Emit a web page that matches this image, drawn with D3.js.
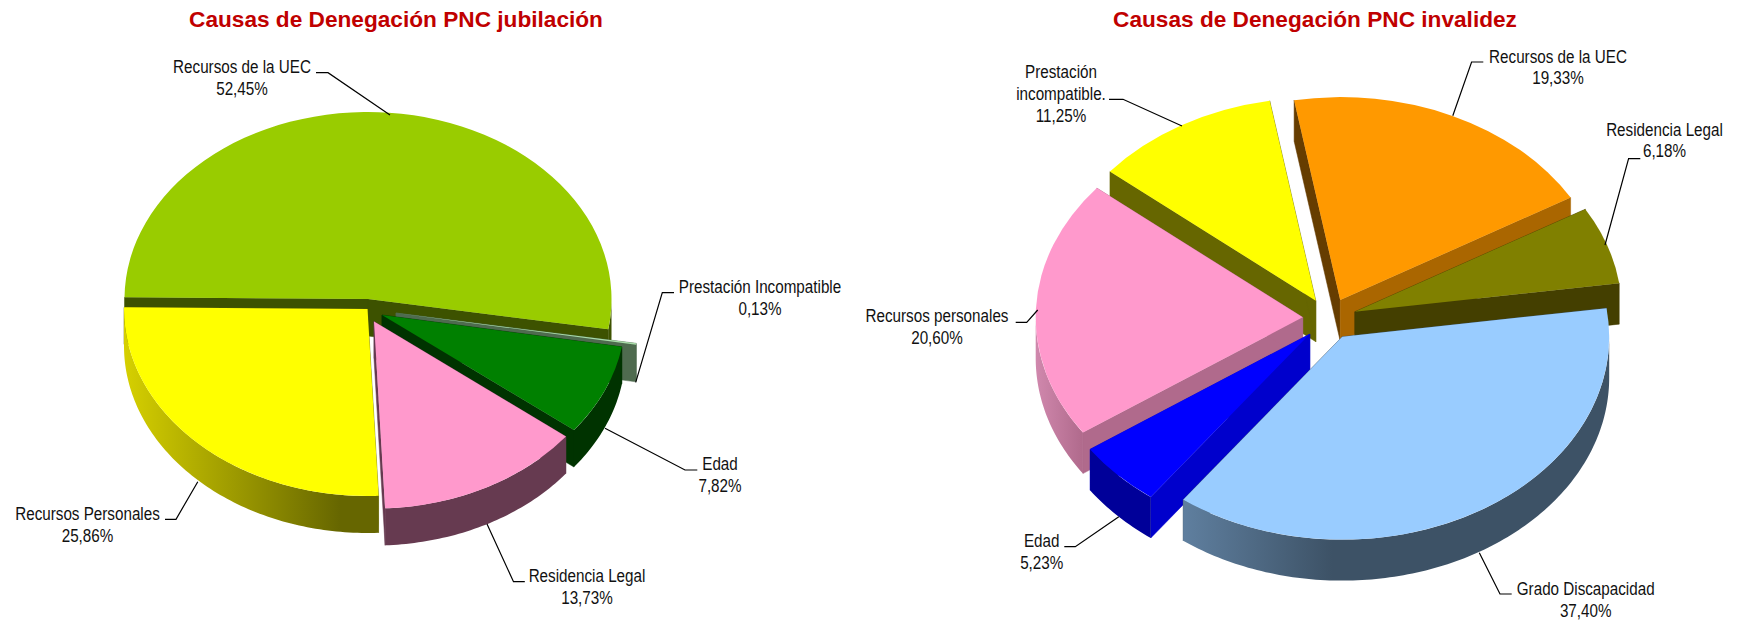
<!DOCTYPE html>
<html>
<head>
<meta charset="utf-8">
<script src="https://cdn.jsdelivr.net/npm/d3@7"></script>
<style>
  html, body { margin: 0; padding: 0; background: #fff; }
  svg { display: block; }
  text { font-family: "Liberation Sans", Arial, sans-serif; fill: #111; }
  .title { font-size: 22.65px; font-weight: bold; fill: #c00000; text-anchor: middle; }
  .label { font-size: 17.5px; text-anchor: middle; }
</style>
</head>
<body>
<div id="chart"></div>
<script>
// Values
const jubCategories = ["Recursos de la UEC", "Prestación Incompatible", "Edad", "Residencia Legal", "Recursos Personales"];
const jubValues = [52.45, 0.13, 7.82, 13.73, 25.86];

const invCategories = ["Recursos de la UEC", "Residencia Legal", "Grado Discapacidad", "Edad", "Recursos personales", "Prestación\nincompatible."];
const invValues = [19.33, 6.18, 37.40, 5.23, 20.60, 11.25];

// Slice colours: top, wall at start edge, wall at end edge, rim gradient
const jubColors = [
    { top: "#99cc00", a: "#3d5200", b: "#3d5200", rim: ["#3d5200", "#3d5200", 1] },
    { top: "#a9dca9", a: "#4f6b4f", b: "#4f6b4f", rim: ["#4f6b4f", "#4f6b4f", 1] },
    { top: "#008000", a: "#003300", b: "#003300", rim: ["#003300", "#003300", 1] },
    { top: "#ff99cc", a: "#663a50", b: "#663a50", rim: ["#663a50", "#663a50", 1] },
    { top: "#ffff00", a: "#666600", b: "#666600", rim: ["#d6d000", "#666600", 0.85] }
];
const invColors = [
    { top: "#ff9900", a: "#663d00", b: "#aa6600", rim: ["#663d00", "#663d00", 1] },
    { top: "#808000", a: "#443f00", b: "#443f00", rim: ["#443f00", "#443f00", 1] },
    { top: "#99ccff", a: "#3d5266", b: "#3d5266", rim: ["#5f7f9f", "#3d5266", 0.35] },
    { top: "#0000ff", a: "#0000cc", b: "#0000cc", rim: ["#000099", "#000099", 1] },
    { top: "#ff99cc", a: "#b06a8c", b: "#b06a8c", rim: ["#d088ad", "#b06a8c", 1] },
    { top: "#ffff00", a: "#666600", b: "#666600", rim: ["#666600", "#666600", 1] }
];

// How far each slice is pulled out of the pie
const jubOffsets = [[0, -1], [28, 13], [14, 15], [6, 21.5], [-0.5, 9]];
const invOffsets = [[-2, -36.7], [12.7, -25], [0, 0], [-32.4, -2.7], [-39.5, -19.4], [-26.4, -36]];

// Label centre x, first baseline y, then leader line points
const jubLabels = [
    { x: 242, y: 73, line: [[316, 72.7], [328, 72.7], [390, 115]] },
    { x: 760, y: 293, line: [[674, 292.7], [662.3, 292.7], [635.7, 382.3]] },
    { x: 720, y: 470, line: [[697.3, 470], [685, 470], [605, 428.3]] },
    { x: 587, y: 582, line: [[524.8, 581.7], [513.5, 581.7], [487, 524]] },
    { x: 87.5, y: 520, line: [[165, 519.3], [176, 519.3], [197.8, 481.7]] }
];
const invLabels = [
    { x: 1558, y: 62.5, line: [[1483.3, 62], [1471.6, 62], [1452.8, 115.7]] },
    { x: 1664.5, y: 135.7, line: [[1640.3, 158.7], [1628.6, 158.7], [1605, 245]] },
    { x: 1585.7, y: 595, line: [[1511.7, 594], [1500, 594], [1479.3, 552.7]] },
    { x: 1041.7, y: 547, line: [[1064.3, 546.7], [1075.3, 546.7], [1118.8, 516.7]] },
    { x: 937, y: 322.3, line: [[1015.7, 322.3], [1026.7, 322.3], [1037.7, 310]] },
    { x: 1061, y: 78.3, line: [[1109, 99.3], [1123, 99.3], [1182, 126]] }
];

const svg = d3.select("#chart")
    .append("svg")
    .attr("width", 1737)
    .attr("height", 620);
const defs = svg.append("defs");

const deg = Math.PI / 180;
const lineGen = d3.line();

function drawPie(cfg) {
    const pie = d3.pie().sort(null)
        .startAngle(cfg.start * deg)
        .endAngle(cfg.start * deg + 2 * Math.PI);
    const slices = pie(cfg.values);
    const arc = d3.arc().innerRadius(0).outerRadius(cfg.r);
    const chart = svg.append("g");

    const rimPoint = a => [Math.sin(a) * cfg.r, -Math.cos(a) * cfg.r * cfg.k];

    // Back slices first, the front ones paint over their walls
    cfg.paint.forEach(i => {
        const d = slices[i];
        const col = cfg.colors[i];
        const g = chart.append("g")
            .attr("transform", `translate(${cfg.cx + cfg.offsets[i][0]}, ${cfg.cy + cfg.offsets[i][1]})`);

        // Flat walls along the two cut edges
        [[d.startAngle, col.a], [d.endAngle, col.b]].forEach(([a, color]) => {
            const p = rimPoint(a);
            g.append("path")
                .attr("d", lineGen([[0, 0], p, [p[0], p[1] + cfg.depth], [0, cfg.depth]]) + "Z")
                .attr("fill", color)
                .attr("stroke", color)
                .attr("stroke-width", 0.5);
        });

        // Curved wall, only where the rim faces the viewer
        const lo = Math.max(d.startAngle, Math.PI / 2);
        const hi = Math.min(d.endAngle, Math.PI * 1.5);
        if (hi > lo) {
            const n = Math.ceil((hi - lo) / deg);
            const rim = d3.range(n + 1).map(j => rimPoint(lo + (hi - lo) * j / n));
            const poly = rim.concat(rim.slice().reverse().map(p => [p[0], p[1] + cfg.depth]));
            const gid = `${cfg.id}-rim-${i}`;
            const grad = defs.append("linearGradient").attr("id", gid);
            grad.append("stop").attr("offset", 0).attr("stop-color", col.rim[0]);
            grad.append("stop").attr("offset", col.rim[2]).attr("stop-color", col.rim[1]);
            g.append("path")
                .attr("d", lineGen(poly) + "Z")
                .attr("fill", `url(#${gid})`);
        }

        // Top face
        g.append("path")
            .attr("d", arc(d))
            .attr("transform", `scale(1, ${cfg.k})`)
            .attr("fill", col.top);
    });

    // Leader lines
    chart.selectAll(".leader")
        .data(cfg.labels)
        .enter()
        .append("path")
        .attr("class", "leader")
        .attr("d", d => lineGen(d.line))
        .attr("fill", "none")
        .attr("stroke", "#000")
        .attr("stroke-width", 1.2);

    // Labels, narrowed like the original
    cfg.labels.forEach((lab, i) => {
        const lines = cfg.categories[i].split("\n");
        lines.push(cfg.values[i].toFixed(2).replace(".", ",") + "%");
        lines.forEach((txt, j) => {
            chart.append("text")
                .attr("class", "label")
                .attr("transform", `translate(${lab.x}, ${lab.y + j * 21.7}) scale(0.87, 1)`)
                .text(txt);
        });
    });

    chart.append("text")
        .attr("class", "title")
        .attr("x", cfg.titleX)
        .attr("y", 26.5)
        .text(cfg.title);
}

drawPie({
    id: "jub", title: "Causas de Denegación PNC jubilación", titleX: 396,
    categories: jubCategories, values: jubValues, colors: jubColors,
    offsets: jubOffsets, labels: jubLabels,
    paint: [0, 1, 2, 3, 4],
    cx: 368, cy: 300, r: 243.5, k: 0.768, depth: 37, start: -89.5
});

drawPie({
    id: "inv", title: "Causas de Denegación PNC invalidez", titleX: 1315,
    categories: invCategories, values: invValues, colors: invColors,
    offsets: invOffsets, labels: invLabels,
    paint: [0, 1, 5, 4, 3, 2],
    cx: 1342.2, cy: 336.7, r: 267, k: 0.76, depth: 41, start: -9.94
});
</script>
</body>
</html>
